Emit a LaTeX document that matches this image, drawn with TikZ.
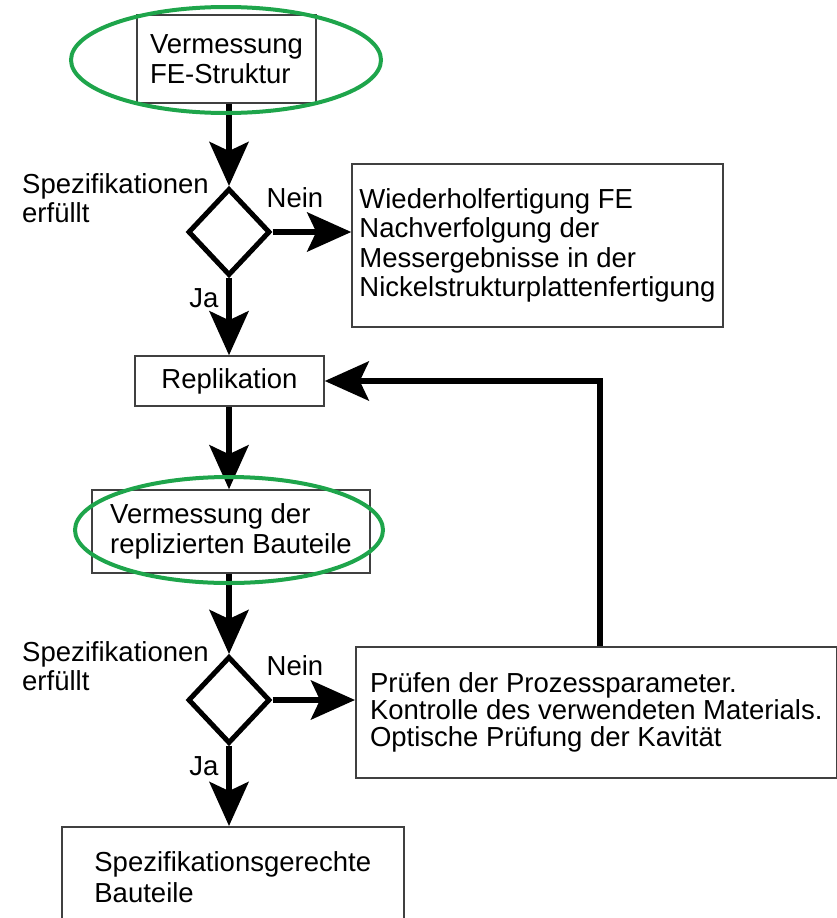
\documentclass[tikz,border=0pt]{standalone}
\usepackage{fontspec}
\setmainfont{Liberation Sans}
\usetikzlibrary{calc, positioning}
\usetikzlibrary{arrows.meta}
\usetikzlibrary{shapes.geometric}
\definecolor{ringgruen}{RGB}{30,165,75}
\tikzset{
  every node/.style={font=\fontsize{27.5}{29.5}\selectfont},
  kasten/.style={draw=black!75, line width=1.5pt, fill=white, inner sep=0pt, align=left},
  raute/.style={diamond, draw=black, line width=5pt, minimum width=82pt, minimum height=87pt, inner sep=0pt},
  pfeil/.style={line width=6pt, -{Stealth[length=44pt, width=39pt, inset=9pt]}},
  ring/.style={draw=ringgruen, line width=4pt},
}

\begin{document}
\begin{tikzpicture}[x=1pt,y=-1pt]
\useasboundingbox (0,0) rectangle (837,918);
\node[kasten, minimum width=179pt, minimum height=88pt] (vfe) at (226.5,59) {Vermessung\\FE-Struktur};
\node[raute] (d1) at (229,232) {};
\node[kasten, minimum width=371pt, minimum height=163pt] (wdh) at (537.5,245.5) {Wiederholfertigung FE\\Nachverfolgung der\\Messergebnisse in der\\Nickelstrukturplattenfertigung};
\node[kasten, minimum width=189pt, minimum height=50pt] (repl) at (229.5,381) {Replikation};
\node[kasten, minimum width=278pt, minimum height=83pt] (vrb) at (231,531.5) {Vermessung der\\replizierten Bauteile};
\node[raute] (d2) at (229,700) {};
\node[kasten, anchor=north west, minimum width=481pt, minimum height=131pt, font=\fontsize{27.5}{27}\selectfont] (pruef) at (355,646) {Prüfen der Prozessparameter.\\Kontrolle des verwendeten Materials.\\Optische Prüfung der Kavität};
\node[kasten, anchor=north west, minimum width=342pt, minimum height=100pt, font=\fontsize{27.5}{31}\selectfont] (sgb) at (61,826) {Spezifikationsgerechte\\Bauteile};
\foreach \d in {d1,d2}{
  \node[anchor=north west, align=left, inner sep=0pt] (spez\d) at ($(\d)+(-207,-59)$) {Spezifikationen\\erfüllt};
  \node (nein\d) at ($(\d)+(66,-34)$) {Nein};
  \node (ja\d) at ($(\d)+(-25,66)$) {Ja};
}
\coordinate (rueck) at (600,646);
\draw[pfeil] (vfe.south -| d1) -- (d1.north);
\draw[pfeil] (d1.east) -- (d1.east -| wdh.west);
\draw[pfeil] (d1.south) -- (d1.south |- repl.north);
\draw[pfeil] (repl.south -| d1) -- (d1 |- vrb.north);
\draw[pfeil] (vrb.south -| d2) -- (d2.north);
\draw[pfeil] (d2.east) -- (d2.east -| pruef.west);
\draw[pfeil] (d2.south) -- (d2.south |- sgb.north);
\draw[pfeil] (rueck) |- (repl.east);
\draw[ring] (226,60) ellipse [x radius=155pt, y radius=53pt];
\draw[ring] (229,530) ellipse [x radius=154pt, y radius=53pt];
\end{tikzpicture}
\end{document}
